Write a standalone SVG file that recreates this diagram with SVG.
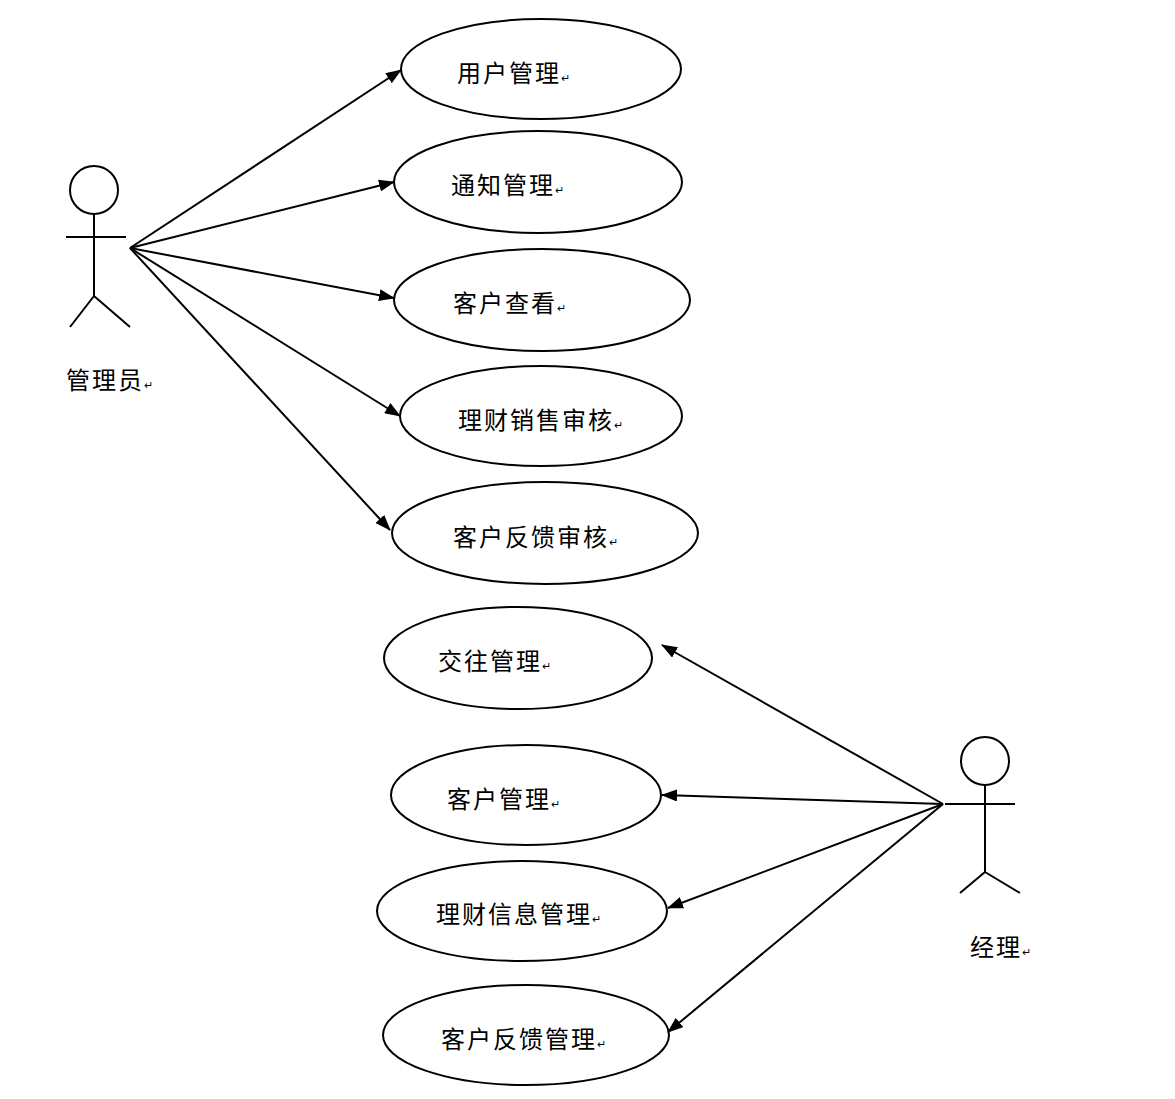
<svg xmlns="http://www.w3.org/2000/svg" width="1175" height="1099" viewBox="0 0 1175 1099">
<style>
.uc{fill:#fff;stroke:#000;stroke-width:2}
.t{font-family:"Liberation Serif","Noto Sans CJK SC",serif;font-size:24px;letter-spacing:2px;fill:#000}
.r{font-size:11px;letter-spacing:0}
.a{stroke:#000;stroke-width:2;fill:none}
.c{stroke:#000;stroke-width:2;fill:none;marker-end:url(#ah)}
</style>
<defs><marker id="ah" markerWidth="16" markerHeight="12" refX="15" refY="6" orient="auto" markerUnits="userSpaceOnUse"><path d="M0,0 L16,6 L0,12 z" fill="#000"/></marker></defs>
<rect width="1175" height="1099" fill="#fff"/>
<g id="admin"><circle class="a" cx="94" cy="190" r="24"/><path class="a" d="M94 214V296M66 237H126M94 296L70 327M94 296L130 327"/><text class="t" x="66" y="389">管理员<tspan class="r">↵</tspan></text></g>
<g id="manager"><circle class="a" cx="985" cy="761" r="24"/><path class="a" d="M985 785V872M945 804H1015M985 872L960 893M985 872L1020 893"/><text class="t" x="970" y="956">经理<tspan class="r">↵</tspan></text></g>
<g id="uc1"><ellipse class="uc" cx="541" cy="69" rx="140" ry="50"/><text class="t" x="457" y="82">用户管理<tspan class="r">↵</tspan></text></g>
<g id="uc2"><ellipse class="uc" cx="538" cy="182" rx="144" ry="51"/><text class="t" x="451" y="194">通知管理<tspan class="r">↵</tspan></text></g>
<g id="uc3"><ellipse class="uc" cx="542" cy="300" rx="148" ry="51"/><text class="t" x="453" y="312">客户查看<tspan class="r">↵</tspan></text></g>
<g id="uc4"><ellipse class="uc" cx="541" cy="416" rx="141" ry="50"/><text class="t" x="458" y="429">理财销售审核<tspan class="r">↵</tspan></text></g>
<g id="uc5"><ellipse class="uc" cx="545" cy="533" rx="153" ry="51"/><text class="t" x="453" y="546">客户反馈审核<tspan class="r">↵</tspan></text></g>
<g id="uc6"><ellipse class="uc" cx="518" cy="658" rx="134" ry="51"/><text class="t" x="438" y="670">交往管理<tspan class="r">↵</tspan></text></g>
<g id="uc7"><ellipse class="uc" cx="526" cy="795" rx="135" ry="50"/><text class="t" x="447" y="808">客户管理<tspan class="r">↵</tspan></text></g>
<g id="uc8"><ellipse class="uc" cx="522" cy="911" rx="145" ry="50"/><text class="t" x="436" y="923">理财信息管理<tspan class="r">↵</tspan></text></g>
<g id="uc9"><ellipse class="uc" cx="526" cy="1035" rx="143" ry="50"/><text class="t" x="441" y="1048">客户反馈管理<tspan class="r">↵</tspan></text></g>
<g id="connectors">
<path class="c" d="M130 248L401 70"/>
<path class="c" d="M130 248L394 182"/>
<path class="c" d="M130 248L394 298"/>
<path class="c" d="M130 248L400 416"/>
<path class="c" d="M130 248L390 530"/>
<path class="c" d="M943 804L662 645"/>
<path class="c" d="M943 804L662 795"/>
<path class="c" d="M943 804L668 908"/>
<path class="c" d="M943 804L668 1032"/>
</g>
</svg>
